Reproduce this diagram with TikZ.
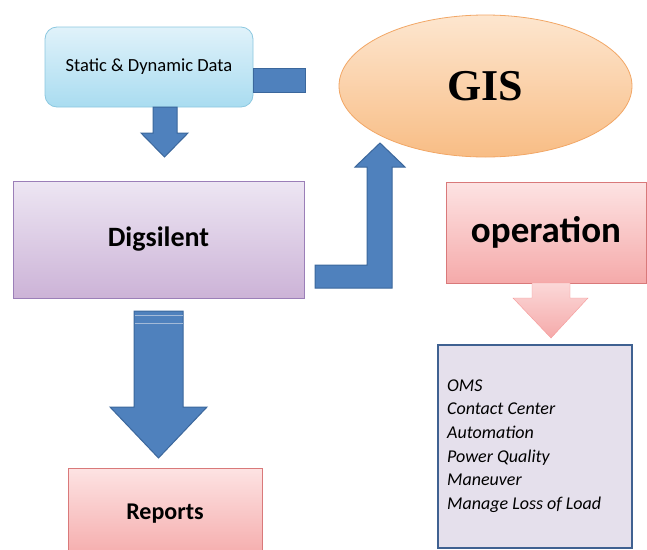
\documentclass[tikz,border=0pt]{standalone}
\usepackage{fontspec}
\setmainfont{Carlito}
\newfontfamily\gisfont{Liberation Serif}
\usetikzlibrary{shapes.geometric}
\definecolor{arrowblue}{HTML}{4F81BD}
\definecolor{arrowedge}{HTML}{3B679C}
\definecolor{stripe}{HTML}{A3BAD8}
\definecolor{cyanTop}{HTML}{E0F2FA}
\definecolor{cyanBot}{HTML}{A9DCF0}
\definecolor{cyanEdge}{HTML}{8CC8E0}
\definecolor{purTop}{HTML}{EDE6F3}
\definecolor{purBot}{HTML}{CCB3D7}
\definecolor{purEdge}{HTML}{9B7FB8}
\definecolor{pinkTop}{HTML}{FDE3E3}
\definecolor{pinkBot}{HTML}{F5AAAA}
\definecolor{pinkEdge}{HTML}{D9797A}
\definecolor{orTop}{HTML}{FDE6CF}
\definecolor{orBot}{HTML}{F8BD85}
\definecolor{orEdge}{HTML}{F2A766}
\definecolor{lavFill}{HTML}{E5E0EC}
\definecolor{listEdge}{HTML}{3F6191}
\tikzset{
  box/.style={rectangle, inner sep=0pt, align=center, line width=0.8pt},
  staticbox/.style={box, rounded corners=12pt, top color=cyanTop, bottom color=cyanBot, draw=cyanEdge},
  purplebox/.style={box, top color=purTop, bottom color=purBot, draw=purEdge},
  pinkbox/.style={box, top color=pinkTop, bottom color=pinkBot, draw=pinkEdge},
  gisshape/.style={ellipse, inner sep=0pt, top color=orTop, bottom color=orBot, draw=orEdge, line width=0.8pt},
  listbox/.style={rectangle, inner sep=0pt, fill=lavFill, draw=listEdge, line width=2pt},
  bluearrow/.style={fill=arrowblue, draw=arrowedge, line width=1pt, line join=miter},
  pinkarrow/.style={top color=pinkTop!80!pinkBot, bottom color=pinkBot, draw=pinkBot!90!red, line width=0.4pt},
}
\begin{document}
\begin{tikzpicture}[x=1pt,y=-1pt]
\clip (0,0) rectangle (647,549);
\fill[white] (0,0) rectangle (647,549);

% nodes
\node[staticbox, minimum width=208pt, minimum height=80pt, font=\fontsize{18.5}{22}\selectfont] (static) at (149,67) {Static \& Dynamic Data};
\node[purplebox, minimum width=291pt, minimum height=117pt, font=\fontsize{28}{32}\selectfont\bfseries] (dig) at (158.5,239.5) {Digsilent};
\node[gisshape, minimum width=293pt, minimum height=142pt, font=\fontsize{44}{48}\selectfont\gisfont\bfseries] (gis) at (485.5,86) {GIS};
\node[pinkbox, minimum width=200pt, minimum height=101pt, font=\fontsize{37}{40}\selectfont\bfseries] (oper) at (546,232.5) {operation};
\node[listbox, minimum width=194pt, minimum height=203pt] (list) at (535,446.5) {};
\node[anchor=west, align=left, inner sep=0pt, font=\fontsize{18}{23.6}\selectfont\itshape] (items) at (447,446) {OMS\\Contact Center\\Automation\\Power Quality\\Maneuver\\Manage Loss of Load};
\node[pinkbox, minimum width=194pt, minimum height=92pt, font=\fontsize{24}{28}\selectfont\bfseries] (rep) at (165,514) {Reports};

% free ends of the block arrows
\coordinate (stubend) at (305,92);
\coordinate (elbowstart) at (315,265);

% connectors (block arrows)
\draw[bluearrow] (253,68) rectangle (stubend);
\draw[bluearrow] (153,107) -- (153,133) -- (141,133) -- (164.5,157) -- (188,133) -- (177,133) -- (177,107) -- cycle;
\draw[bluearrow] (elbowstart) -- (367,265) -- (367,167) -- (355,167) -- (380,143) -- (405,167) -- (392,167) -- (392,288) -- (315,288) -- cycle;
\draw[bluearrow] (134,311) -- (183,311) -- (183,407) -- (207,407) -- (158.5,458) -- (110,407) -- (134,407) -- cycle;
\draw[stripe, line width=1pt] (134.5,315.5) -- (182.5,315.5);
\draw[stripe, line width=1pt] (134.5,323) -- (182.5,323);
\draw[pinkarrow] (532,283) -- (570,283) -- (570,298) -- (588,298) -- (551,338) -- (513,298) -- (532,298) -- cycle;
\end{tikzpicture}
\end{document}
